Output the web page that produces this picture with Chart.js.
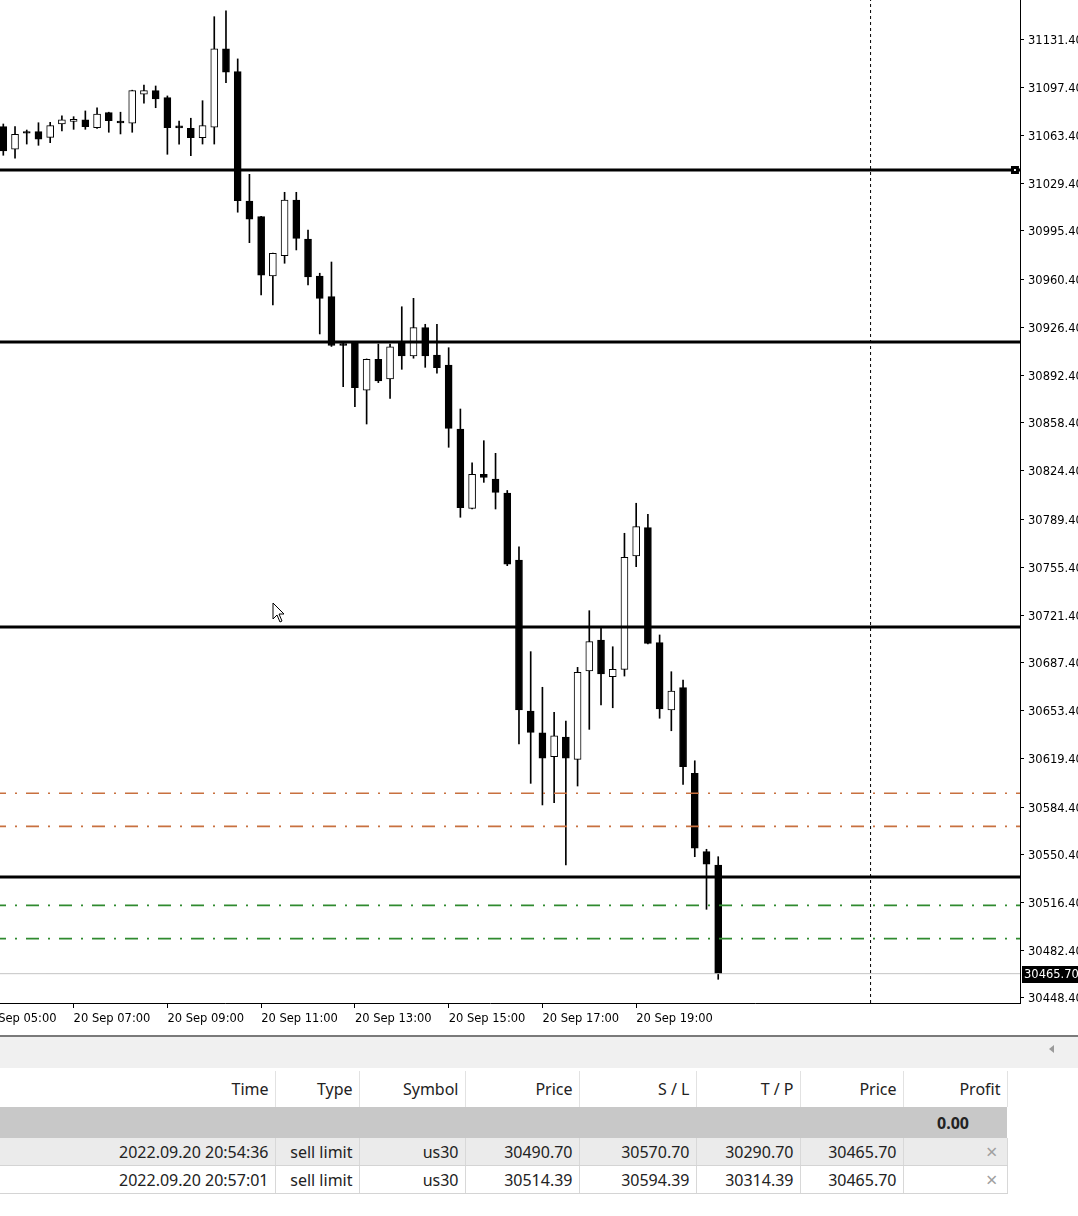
<!DOCTYPE html>
<html lang="en">
<head>
<meta charset="UTF-8">
<title>us30 M15</title>
<style>
    html, body {
        margin: 0;
        padding: 0;
        background: #ffffff;
        width: 1078px;
        height: 1216px;
        overflow: hidden;
        position: relative;
    }

    #wrap {
        position: absolute;
        left: -40px;
        top: 0;
        width: 1130px;
        height: 1030px;
    }

    .sep {
        position: absolute;
        left: 0;
        top: 1035px;
        width: 1078px;
        height: 2px;
        background: #7a7a7a;
    }

    .band {
        position: absolute;
        left: 0;
        top: 1037px;
        width: 1078px;
        height: 31px;
        background: #f0f0f0;
    }

    .arrow {
        position: absolute;
        left: 1049px;
        top: 1045px;
        width: 0;
        height: 0;
        border-top: 4px solid transparent;
        border-bottom: 4px solid transparent;
        border-right: 5px solid #9a9a9a;
    }

    .cursor {
        position: absolute;
        left: 272px;
        top: 602px;
    }

    table {
        position: absolute;
        left: 0;
        top: 1071px;
        width: 1007px;
        border-collapse: collapse;
        table-layout: fixed;
        font-family: 'Noto Sans', sans-serif;
        font-size: 16px;
        color: #222222;
    }

    th, td {
        text-align: right;
        padding: 0 6px 0 0;
        white-space: nowrap;
        overflow: hidden;
        font-weight: normal;
        vertical-align: middle;
    }

    tr.hd th {
        height: 36px;
        border-right: 1px solid #e2e2e2;
    }

    tr.tot td {
        height: 31px;
        background: #c8c8c8;
    }

    tr.tot td.p {
        font-weight: bold;
        text-align: left;
        padding-left: 34px;
    }

    tr.row td {
        height: 27px;
        border-right: 1px solid #d8d8d8;
        border-bottom: 1px solid #d4d4d4;
    }

    tr.r1 td {
        background: #ebebeb;
    }

    td.x {
        color: #a0a0a0;
        font-size: 20px;
        padding-right: 9px;
    }
</style>
</head>
<body>
    <div id="wrap"><canvas id="chart" width="1130" height="1030"></canvas></div>

    <svg class="cursor" width="14" height="22" viewBox="0 0 14 22">
        <path d="M1,1 L1,17 L5,13 L8,20 L10,19 L7,12 L12,12 Z" fill="#ffffff" stroke="#000000" stroke-width="1"/>
    </svg>

    <div class="sep"></div>
    <div class="band"></div>
    <div class="arrow"></div>

    <table>
        <colgroup>
            <col style="width:275px"><col style="width:84px"><col style="width:106px"><col style="width:114px">
            <col style="width:117px"><col style="width:104px"><col style="width:103px"><col style="width:104px">
        </colgroup>
        <tr class="hd"><th>Time</th><th>Type</th><th>Symbol</th><th>Price</th><th>S / L</th><th>T / P</th><th>Price</th><th>Profit</th></tr>
        <tr class="tot"><td></td><td></td><td></td><td></td><td></td><td></td><td></td><td class="p">0.00</td></tr>
        <tr class="row r1"><td>2022.09.20 20:54:36</td><td>sell limit</td><td>us30</td><td>30490.70</td><td>30570.70</td><td>30290.70</td><td>30465.70</td><td class="x">×</td></tr>
        <tr class="row r2"><td>2022.09.20 20:57:01</td><td>sell limit</td><td>us30</td><td>30514.39</td><td>30594.39</td><td>30314.39</td><td>30465.70</td><td class="x">×</td></tr>
    </table>

    <script src="https://cdn.jsdelivr.net/npm/chart.js"></script>
    <script>
        // us30 M15 candles, 20 Sep 05:30 .. 20:45 (index 0 = 05:30)
        const opens = [31069.6, 31053.5, 31066.0, 31066.0, 31062.0, 31071.5, 31073.4, 31074.4, 31068.9, 31079.6,
            31073.6, 31072.0, 31092.7, 31095.3, 31090.3, 31070.1, 31068.4, 31061.7, 31069.2, 31125.0,
            31108.8, 31016.6, 31005.4, 30963.1, 30977.6, 31017.3, 30989.5, 30963.1, 30948.4, 30915.0,
            30915.1, 30881.8, 30903.7, 30889.7, 30916.3, 30906.1, 30926.3, 30906.8, 30899.7, 30854.0,
            30797.5, 30821.7, 30818.4, 30808.4, 30760.6, 30653.0, 30637.5, 30620.4, 30634.4, 30618.5,
            30681.5, 30703.6, 30677.4, 30682.7, 30763.5, 30783.7, 30701.7, 30653.7, 30669.6, 30608.6,
            30552.7, 30543.2];
        const highs = [31071.5, 31069.6, 31067.2, 31072.4, 31072.7, 31077.4, 31076.7, 31080.8, 31083.1, 31079.9,
            31079.9, 31095.6, 31099.3, 31098.6, 31091.5, 31073.6, 31075.6, 31088.1, 31148.0, 31152.1,
            31117.9, 31035.6, 31005.6, 30979.5, 31022.8, 31022.8, 30995.9, 30965.1, 30973.1, 30916.3,
            30915.5, 30904.0, 30914.6, 30914.6, 30941.2, 30947.2, 30928.7, 30928.7, 30912.0, 30868.3,
            30830.0, 30845.7, 30836.7, 30810.2, 30770.1, 30695.3, 30669.9, 30652.1, 30645.8, 30684.1,
            30724.5, 30711.9, 30698.8, 30779.7, 30801.1, 30793.2, 30707.2, 30681.0, 30675.1, 30617.5,
            30554.4, 30549.1];
        const lows = [31049.2, 31047.1, 31057.2, 31056.3, 31058.2, 31066.5, 31067.7, 31067.7, 31068.4, 31065.6,
            31064.4, 31065.6, 31086.3, 31083.1, 31049.9, 31057.2, 31048.9, 31057.2, 31057.2, 31101.0,
            31008.6, 30986.9, 30949.6, 30942.5, 30972.2, 30981.7, 30956.7, 30921.8, 30912.9, 30884.2,
            30869.9, 30857.6, 30887.1, 30875.9, 30896.6, 30904.5, 30898.0, 30893.8, 30841.0, 30791.1,
            30797.0, 30816.0, 30797.0, 30756.6, 30629.5, 30601.4, 30586.0, 30587.6, 30543.2, 30599.5,
            30639.9, 30657.3, 30655.3, 30677.9, 30755.9, 30700.8, 30647.8, 30638.9, 30600.7, 30549.1,
            30511.6, 30461.7];
        const closes = [31052.3, 31064.2, 31064.9, 31060.6, 31070.3, 31074.4, 31074.9, 31069.6, 31078.6, 31073.9,
            31072.2, 31095.3, 31095.3, 31089.3, 31068.9, 31068.7, 31061.7, 31070.3, 31125.0, 31108.4,
            31016.8, 31003.6, 30963.8, 30979.3, 31017.3, 30990.0, 30962.4, 30947.2, 30913.6, 30913.6,
            30883.5, 30903.7, 30888.3, 30912.7, 30906.1, 30926.3, 30906.1, 30897.8, 30854.5, 30797.9,
            30821.7, 30819.6, 30808.9, 30757.6, 30653.7, 30637.8, 30619.3, 30635.2, 30619.3, 30680.6,
            30702.4, 30679.4, 30682.7, 30762.6, 30784.4, 30701.2, 30654.4, 30667.2, 30613.3, 30555.1,
            30543.7, 30465.7];

        const yTicks = [31131.4, 31097.4, 31063.4, 31029.4, 30995.4, 30960.4, 30926.4, 30892.4, 30858.4, 30824.4,
            30789.4, 30755.4, 30721.4, 30687.4, 30653.4, 30619.4, 30584.4, 30550.4, 30516.4, 30482.4, 30448.4];
        const xTickIdx = [-2, 6, 14, 22, 30, 38, 46, 54];
        const xTickLabels = ['20 Sep 05:00', '20 Sep 07:00', '20 Sep 09:00', '20 Sep 11:00',
            '20 Sep 13:00', '20 Sep 15:00', '20 Sep 17:00', '20 Sep 19:00'];

        const levels = [31038.7, 30916.1, 30712.9, 30534.6];   // drawn horizontal lines
        const stopLevels = [30594.39, 30570.70];               // S/L of the two orders
        const entryLevels = [30514.39, 30490.70];              // sell limit prices
        const bid = 30465.70;
        const daySeparator = 74;                               // 21 Sep 00:00

        const X_MIN = -3.695, X_MAX = 86.75;
        const Y_MIN = 30444.8, Y_MAX = 31159.9;

        function hLine(price, color, width, dash) {
            return {
                type: 'line',
                data: [{ x: X_MIN, y: price }, { x: X_MAX, y: price }],
                borderColor: color,
                borderWidth: width,
                borderDash: dash || [],
                pointRadius: 0,
                order: 0
            };
        }

        const datasets = [];

        // first level carries the small handle square at its right end
        datasets.push({
            type: 'line',
            data: [{ x: X_MIN, y: levels[0] }, { x: 86.32, y: levels[0] }, { x: X_MAX, y: levels[0] }],
            borderColor: '#000000',
            borderWidth: 3,
            pointRadius: [0, 3.5, 0],
            pointStyle: 'rect',
            pointBackgroundColor: '#ffffff',
            pointBorderColor: '#000000',
            pointBorderWidth: 3,
            order: 0
        });
        levels.slice(1).forEach(p => datasets.push(hLine(p, '#000000', 3)));
        stopLevels.forEach(p => datasets.push(hLine(p, '#c8703f', 1.6, [13, 9, 2, 9])));
        entryLevels.forEach(p => datasets.push(hLine(p, '#2f8a2f', 1.6, [13, 9, 2, 9])));
        datasets.push(hLine(bid, '#c4c4c4', 1));
        datasets.push({
            type: 'line',
            data: [{ x: daySeparator, y: Y_MIN }, { x: daySeparator, y: Y_MAX }],
            borderColor: '#000000',
            borderWidth: 1,
            borderDash: [3, 3],
            pointRadius: 0,
            order: 0
        });

        // candle bodies
        datasets.push({
            type: 'bar',
            data: opens.map((o, i) => ({ x: i, y: [o, closes[i]] })),
            backgroundColor: opens.map((o, i) => closes[i] > o ? '#ffffff' : '#000000'),
            borderColor: '#000000',
            borderWidth: 1,
            borderSkipped: false,
            barThickness: 7,
            grouped: false,
            order: 1
        });
        // wicks
        datasets.push({
            type: 'bar',
            data: lows.map((l, i) => ({ x: i, y: [l, highs[i]] })),
            backgroundColor: '#000000',
            borderWidth: 0,
            barThickness: 1,
            grouped: false,
            order: 2
        });

        const bidLabel = {
            id: 'bidLabel',
            afterDraw(chart) {
                const { ctx, chartArea } = chart;
                const py = Math.round(chart.scales.y.getPixelForValue(bid));
                ctx.save();
                ctx.fillStyle = '#000000';
                ctx.fillRect(chartArea.right + 2, py - 8, 90, 17);
                ctx.fillStyle = '#ffffff';
                ctx.font = '11.5px "DejaVu Sans"';
                ctx.textBaseline = 'middle';
                ctx.fillText(bid.toFixed(2), chartArea.right + 4, py + 1);
                ctx.restore();
            }
        };

        new Chart(document.getElementById('chart'), {
            type: 'bar',
            data: { datasets: datasets },
            options: {
                responsive: false,
                animation: false,
                layout: { padding: 0 },
                plugins: {
                    legend: { display: false },
                    tooltip: { enabled: false }
                },
                scales: {
                    x: {
                        type: 'linear',
                        min: X_MIN,
                        max: X_MAX,
                        offset: false,
                        grid: { display: true, drawOnChartArea: false, offset: false, tickLength: 5, color: '#000000' },
                        border: { display: true, color: '#000000', width: 1 },
                        afterBuildTicks: s => { s.ticks = xTickIdx.map(v => ({ value: v })); },
                        afterFit: s => { s.height = 27; s.paddingLeft = 0; s.paddingRight = 0; },
                        ticks: {
                            autoSkip: false,
                            maxRotation: 0,
                            align: 'start',
                            padding: 4,
                            color: '#000000',
                            font: { family: 'DejaVu Sans', size: 11.5 },
                            callback: v => xTickLabels[xTickIdx.indexOf(v)]
                        }
                    },
                    y: {
                        type: 'linear',
                        position: 'right',
                        min: Y_MIN,
                        max: Y_MAX,
                        grid: { display: true, drawOnChartArea: false, tickLength: 4, color: '#000000' },
                        border: { display: true, color: '#000000', width: 1 },
                        afterBuildTicks: s => { s.ticks = yTicks.map(v => ({ value: v })); },
                        afterFit: s => { s.width = 70; s.paddingTop = 0; s.paddingBottom = 0; },
                        ticks: {
                            padding: 4,
                            labelOffset: 1.5,
                            color: '#000000',
                            font: { family: 'DejaVu Sans', size: 11.5 },
                            callback: v => v.toFixed(2)
                        }
                    }
                }
            },
            plugins: [bidLabel]
        });
    </script>
</body>
</html>
